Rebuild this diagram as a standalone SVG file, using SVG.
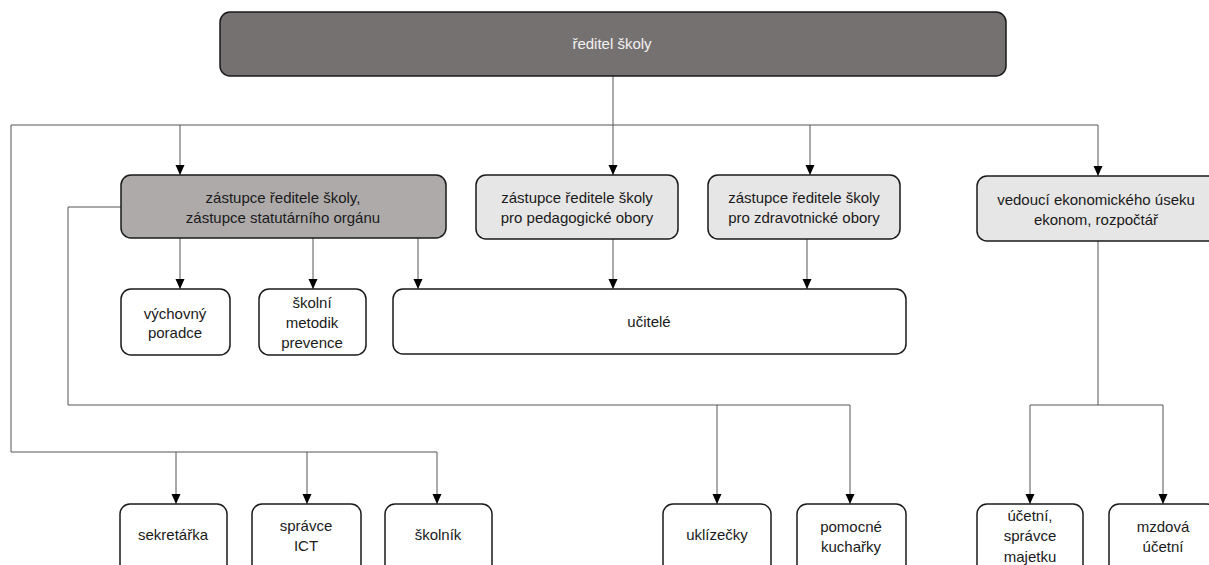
<svg xmlns="http://www.w3.org/2000/svg" width="1209" height="565" viewBox="0 0 1209 565">
<style>
.box{stroke:#1a1a1a;stroke-width:1.5}
.w{fill:#ffffff}
.l{fill:#e7e6e6}
.m{fill:#aeaaaa}
.d{fill:#767171}
text{font-family:"Liberation Sans",Arial,sans-serif;font-size:15px;fill:#1a1a1a;text-anchor:middle}
.wt{fill:#f2f2f2}
.c{fill:none;stroke:#555555;stroke-width:1}
</style>
<defs>
<marker id="ar" viewBox="0 0 10 10" refX="10" refY="5" markerWidth="10" markerHeight="10" markerUnits="userSpaceOnUse" orient="auto">
<path d="M0,0.5 L10,5 L0,9.5 Z" fill="#000"/>
</marker>
</defs>
<rect width="1209" height="565" fill="#ffffff"/>
<g id="connectors">
<line class="c" x1="613" y1="76" x2="613" y2="125"/>
<polyline class="c" points="11,452 11,125 1098,125"/>
<line class="c" x1="180" y1="125" x2="180" y2="175" marker-end="url(#ar)"/>
<line class="c" x1="613" y1="125" x2="613" y2="175" marker-end="url(#ar)"/>
<line class="c" x1="810" y1="125" x2="810" y2="175" marker-end="url(#ar)"/>
<line class="c" x1="1098" y1="125" x2="1098" y2="176" marker-end="url(#ar)"/>
<line class="c" x1="11" y1="452" x2="437" y2="452"/>
<line class="c" x1="176" y1="452" x2="176" y2="504" marker-end="url(#ar)"/>
<line class="c" x1="307" y1="452" x2="307" y2="504" marker-end="url(#ar)"/>
<line class="c" x1="437" y1="452" x2="437" y2="504" marker-end="url(#ar)"/>
<line class="c" x1="180" y1="238" x2="180" y2="289" marker-end="url(#ar)"/>
<line class="c" x1="313" y1="238" x2="313" y2="289" marker-end="url(#ar)"/>
<line class="c" x1="418" y1="238" x2="418" y2="289" marker-end="url(#ar)"/>
<line class="c" x1="613" y1="239" x2="613" y2="289" marker-end="url(#ar)"/>
<line class="c" x1="807" y1="239" x2="807" y2="289" marker-end="url(#ar)"/>
<polyline class="c" points="121,207 68,207 68,405 850,405"/>
<line class="c" x1="717" y1="405" x2="717" y2="504" marker-end="url(#ar)"/>
<line class="c" x1="850" y1="405" x2="850" y2="504" marker-end="url(#ar)"/>
<line class="c" x1="1098" y1="241" x2="1098" y2="405"/>
<line class="c" x1="1030" y1="405" x2="1163" y2="405"/>
<line class="c" x1="1030" y1="405" x2="1030" y2="504" marker-end="url(#ar)"/>
<line class="c" x1="1163" y1="405" x2="1163" y2="504" marker-end="url(#ar)"/>
</g>
<g id="reditel">
<rect class="box d" x="220" y="12" width="786" height="64" rx="10"/>
<text class="wt" x="612" y="49">ředitel školy</text>
</g>
<g id="zastupce-stat">
<rect class="box m" x="121" y="175" width="325" height="63" rx="10"/>
<text x="283" y="203">zástupce ředitele školy,</text>
<text x="283" y="223">zástupce statutárního orgánu</text>
</g>
<g id="zastupce-ped">
<rect class="box l" x="476" y="175" width="202" height="64" rx="10"/>
<text x="577" y="203">zástupce ředitele školy</text>
<text x="577" y="223">pro pedagogické obory</text>
</g>
<g id="zastupce-zdr">
<rect class="box l" x="708" y="175" width="192" height="64" rx="10"/>
<text x="804" y="203">zástupce ředitele školy</text>
<text x="804" y="223">pro zdravotnické obory</text>
</g>
<g id="ekonom">
<rect class="box l" x="977" y="176" width="242" height="65" rx="10"/>
<text x="1096" y="205">vedoucí ekonomického úseku</text>
<text x="1096" y="225">ekonom, rozpočtář</text>
</g>
<g id="vychovny">
<rect class="box w" x="121" y="289" width="109" height="66" rx="10"/>
<text x="175" y="319">výchovný</text>
<text x="175" y="338">poradce</text>
</g>
<g id="metodik">
<rect class="box w" x="259" y="289" width="107" height="66" rx="10"/>
<text x="312" y="308">školní</text>
<text x="312" y="328">metodik</text>
<text x="312" y="348">prevence</text>
</g>
<g id="ucitele">
<rect class="box w" x="393" y="289" width="513" height="65" rx="10"/>
<text x="649" y="327">učitelé</text>
</g>
<g id="sekretarka">
<rect class="box w" x="120" y="504" width="107" height="70" rx="10"/>
<text x="173" y="540">sekretářka</text>
</g>
<g id="spravce-ict">
<rect class="box w" x="252" y="504" width="109" height="70" rx="10"/>
<text x="306" y="531">správce</text>
<text x="306" y="551">ICT</text>
</g>
<g id="skolnik">
<rect class="box w" x="385" y="504" width="107" height="70" rx="10"/>
<text x="438" y="540">školník</text>
</g>
<g id="uklizecky">
<rect class="box w" x="663" y="504" width="108" height="70" rx="10"/>
<text x="717" y="540">uklízečky</text>
</g>
<g id="kucharky">
<rect class="box w" x="797" y="504" width="109" height="70" rx="10"/>
<text x="851" y="532">pomocné</text>
<text x="851" y="552">kuchařky</text>
</g>
<g id="ucetni">
<rect class="box w" x="977" y="504" width="106" height="70" rx="10"/>
<text x="1030" y="521">účetní,</text>
<text x="1030" y="541">správce</text>
<text x="1030" y="562">majetku</text>
</g>
<g id="mzdova">
<rect class="box w" x="1109" y="504" width="108" height="70" rx="10"/>
<text x="1163" y="532">mzdová</text>
<text x="1163" y="552">účetní</text>
</g>
</svg>
